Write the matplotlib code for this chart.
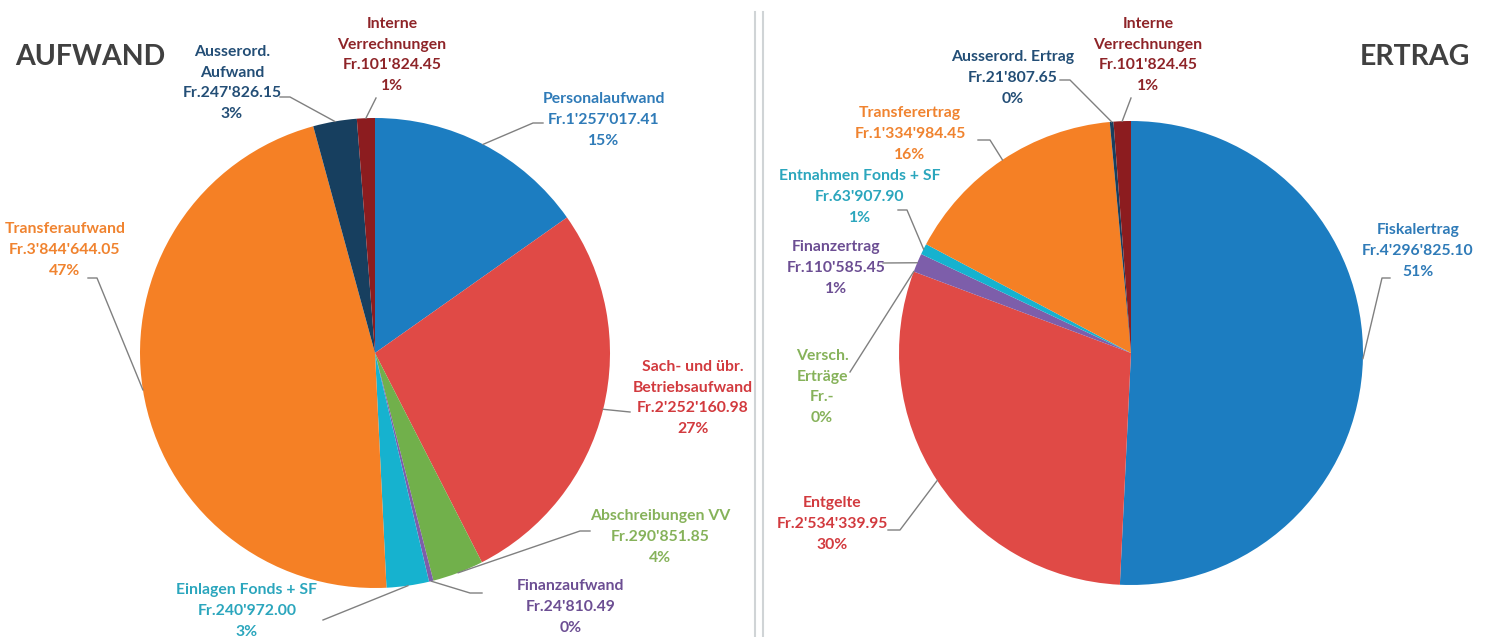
import numpy as np
import matplotlib.pyplot as plt

# ── Data ──────────────────────────────────────────────────────────────────────
aufwand_labels = ["Personalaufwand", "Sach- und übr.\nBetriebsaufwand",
                  "Abschreibungen VV", "Finanzaufwand", "Einlagen Fonds + SF",
                  "Transferaufwand", "Ausserord.\nAufwand",
                  "Interne\nVerrechnungen"]
aufwand_values = [1257017.41, 2252160.98, 290851.85, 24810.49, 240972.00,
                  3844644.05, 247826.15, 101824.45]

ertrag_labels = ["Fiskalertrag", "Entgelte", "Versch.\nErträge", "Finanzertrag",
                 "Entnahmen Fonds + SF", "Transferertrag", "Ausserord. Ertrag",
                 "Interne\nVerrechnungen"]
ertrag_values = [4296825.10, 2534339.95, 0.0, 110585.45, 63907.90,
                 1334984.45, 21807.65, 101824.45]

# ── Style / layout ────────────────────────────────────────────────────────────
W, H = 1491, 637
FONT = "Lato"

wedge_colors = ["#1C7DC1", "#E04A46", "#71B04B", "#7D5EAA", "#16B2CF",
                "#F58025", "#173F5F", "#8C1C1F"]
text_colors = ["#2F7BB8", "#D23A3E", "#86B25A", "#6C4E93", "#2BA6BD",
               "#F0832F", "#234E76", "#8E2428"]

# label centre (px) and leader knee points (px), per slice
aufwand_text = [(604, 120), (693, 398), (660, 537), (571, 607),
                (247, 611), (65, 250), (232, 83), (392, 55)]
aufwand_knee = [[(543, 123), (533, 123)], [(630, 412)], [(590, 531), (580, 531)],
                [(482, 593), (470, 593)], [(323, 620)], [(88, 278), (97, 278)],
                [(280, 97), (290, 97)], [(376, 98)]]

ertrag_text = [(1418, 251), (832, 524), (822, 387), (836, 268),
               (860, 197), (910, 134), (1013, 78), (1148, 55)]
ertrag_knee = [[(1390, 278), (1382, 278)], [(888, 530), (900, 530)], [(850, 372)],
               [(883, 263)], [(898, 210), (907, 210)], [(978, 140), (990, 140)],
               [(1060, 80), (1070, 80)], [(1131, 98)]]


def fmt_value(v):
    if v == 0:
        return "Fr.-"
    return "Fr." + f"{v:,.2f}".replace(",", "'")


def draw_pie(ax, labels, values, center, radius, text_pos, knees):
    cx, cy = center[0], H - center[1]
    wedges, _ = ax.pie(values, colors=wedge_colors, startangle=90,
                       counterclock=False, center=(cx, cy), radius=radius,
                       frame=True, wedgeprops=dict(linewidth=0))
    total = sum(values)
    for i, w in enumerate(wedges):
        th = np.deg2rad((w.theta1 + w.theta2) / 2)
        ex, ey = cx + radius * np.cos(th), cy + radius * np.sin(th)
        pts = [(x, H - y) for x, y in knees[i]] + [(ex, ey)]
        ax.plot([p[0] for p in pts], [p[1] for p in pts],
                color="#808080", lw=1, zorder=3)
        pct = round(values[i] / total * 100)
        txt = f"{labels[i]}\n{fmt_value(values[i])}\n{pct}%"
        tx, ty = text_pos[i]
        ax.text(tx, H - ty, txt, ha="center", va="center",
                multialignment="center", fontsize=11.3, fontweight="bold",
                family=FONT, color=text_colors[i], linespacing=1.6, zorder=4)


fig = plt.figure(figsize=(W / 100, H / 100), dpi=100)
ax = fig.add_axes([0, 0, 1, 1])

draw_pie(ax, aufwand_labels, aufwand_values, (375, 353), 235,
         aufwand_text, aufwand_knee)
draw_pie(ax, ertrag_labels, ertrag_values, (1131, 353), 232,
         ertrag_text, ertrag_knee)

ax.text(15, H - 57, "AUFWAND", ha="left", va="center", fontsize=20.5,
        fontweight="bold", family=FONT, color="#404040")
ax.text(1470, H - 57, "ERTRAG", ha="right", va="center", fontsize=20.5,
        fontweight="bold", family=FONT, color="#404040")

# separator lines
for x in (755, 763):
    ax.plot([x, x], [0, H - 12], color="#D0D4D6", lw=1.5)

ax.set_xlim(0, W)
ax.set_ylim(0, H)
ax.set_aspect("equal")
ax.axis("off")

fig.savefig("out.png", dpi=100)
